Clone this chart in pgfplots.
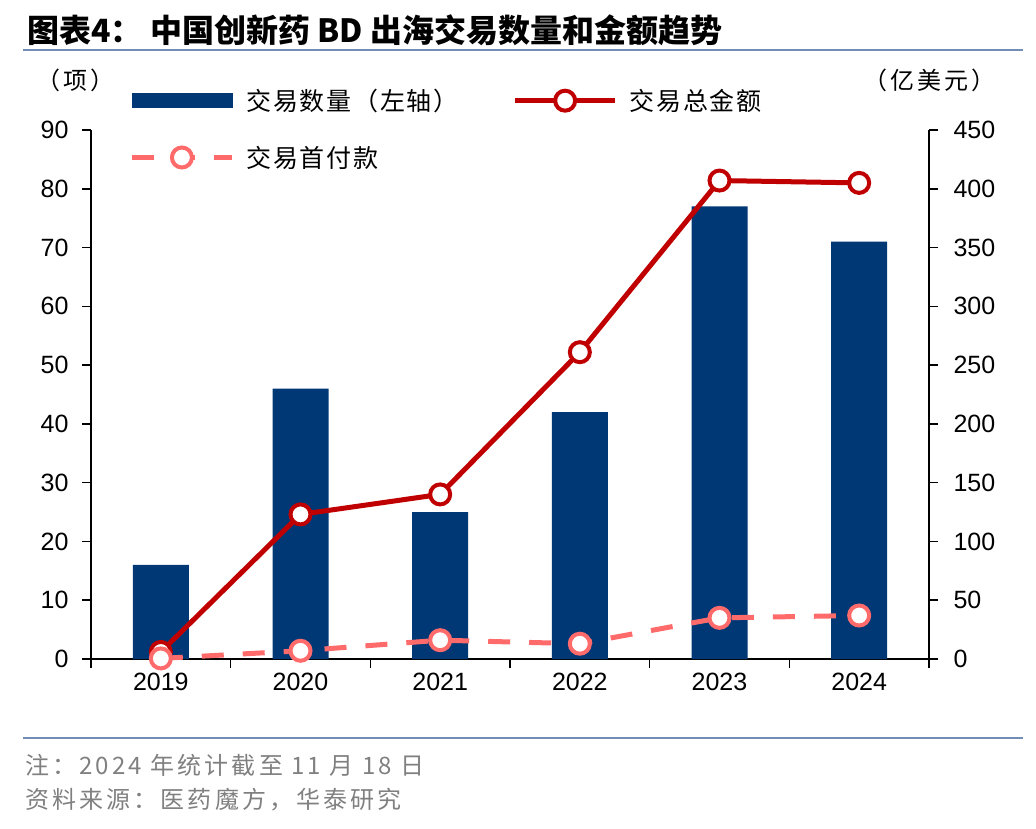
\documentclass[border=0pt]{standalone}
\usepackage{pgfplots}
\pgfplotsset{compat=1.18}
\usepackage{fontspec}
\setmainfont{Liberation Sans}
\newfontfamily\cjk{Noto Sans CJK SC}
\newfontfamily\cjksp[LetterSpace=7]{Noto Sans CJK SC}
\newfontfamily\cjknote[LetterSpace=13]{Noto Sans CJK SC}
\definecolor{barblue}{RGB}{0,56,118}
\definecolor{totred}{RGB}{192,0,0}
\definecolor{uppink}{RGB}{255,107,107}
\definecolor{rulecol}{RGB}{112,142,182}
\definecolor{notegray}{RGB}{128,128,128}

\pgfplotsset{
  markline legend/.style={
    legend image code/.code={\draw[mark repeat=2, mark phase=2, ##1] plot coordinates {(0pt,0pt) (50pt,0pt) (100pt,0pt)};}
  },
  base/.style={
    at={(91pt,169pt)}, anchor=south west,
    scale only axis, width=838pt, height=529pt,
    xmin=-0.5, xmax=5.5, ymin=0,
    axis line style={line width=1.6pt, black},
    tick style={line width=1.6pt, black},
    tick align=outside, major tick length=9pt,
    ticklabel style={font=\fontsize{25}{25}\selectfont},
    /pgf/number format/assume math mode=true,
    clip=false,
  }
}

\begin{document}
\begin{tikzpicture}[x=1pt,y=1pt]
\path[use as bounding box] (0,0) rectangle (1036,828);
% title and rules
\node[anchor=west, inner sep=0pt, font=\cjk\bfseries\fontsize{32}{32}\selectfont] at (27,798) {图表4：};
\node[anchor=west, inner sep=0pt, font=\cjk\bfseries\fontsize{32}{32}\selectfont] at (150,798) {中国创新药 BD 出海交易数量和金额趋势};
\draw[rulecol, line width=2pt] (23,778) -- (1023,778);
\draw[rulecol, line width=2pt] (23,90) -- (1023,90);
% notes
\node[anchor=west, inner sep=0pt, text=notegray, font=\cjknote\fontsize{24}{24}\selectfont] at (25,63) {注：2024 年统计截至 11 月 18 日};
\node[anchor=west, inner sep=0pt, text=notegray, font=\cjknote\fontsize{24}{24}\selectfont] at (25,28) {资料来源：医药魔方，华泰研究};
% units
\node[anchor=west, inner sep=0pt, font=\cjknote\fontsize{24}{24}\selectfont] at (36,748) {（项）};
\node[anchor=east, inner sep=0pt, font=\cjknote\fontsize{24}{24}\selectfont] at (996,748) {（亿美元）};

\begin{axis}[base,
  ymax=90, ytick={0,10,...,90},
  axis x line*=bottom, axis y line*=left,
  xtick={-0.5,0.5,...,5.5}, xticklabels={},
  extra x ticks={0,1,2,3,4,5},
  extra x tick labels={2019,2020,2021,2022,2023,2024},
  extra x tick style={major tick length=0pt, xticklabel style={yshift=-11pt}},
  yticklabel style={xshift=-10pt},
]
\addplot[ybar, bar width=56pt, fill=barblue, draw=none] coordinates {
  (0,16) (1,46) (2,25) (3,42) (4,77) (5,71)};
\end{axis}

\begin{axis}[base,
  ymax=450, ytick={0,50,...,450},
  axis x line=none, axis y line*=right,
  yticklabel style={xshift=12pt},
  legend columns=2,
  legend cell align=left,
  legend style={at={(0.042,1.085)}, anchor=north west, draw=none, fill=none,
    font=\cjksp\fontsize{25}{25}\selectfont, row sep=30pt,
    /tikz/every odd column/.append style={column sep=10pt},
    /tikz/every even column/.append style={column sep=52pt}},
]
\addlegendimage{legend image code/.code={\fill[barblue] (0pt,-7pt) rectangle (100pt,7pt);}}
\addlegendentry{交易数量（左轴）}
\addplot[totred, line width=5pt, mark=*, mark size=10pt,
  mark options={solid, fill=white, draw=totred, line width=4pt}, markline legend]
  coordinates {(0,6) (1,123) (2,140) (3,261) (4,407) (5,405)};
\addlegendentry{交易总金额}
\addplot[uppink, line width=5pt, dash pattern=on 22pt off 19pt, mark=*, mark size=10pt,
  mark options={solid, fill=white, draw=uppink, line width=4pt}, markline legend]
  coordinates {(0,0.5) (1,7) (2,16) (3,13) (4,35) (5,37)};
\addlegendentry{交易首付款}
\end{axis}
\end{tikzpicture}
\end{document}
